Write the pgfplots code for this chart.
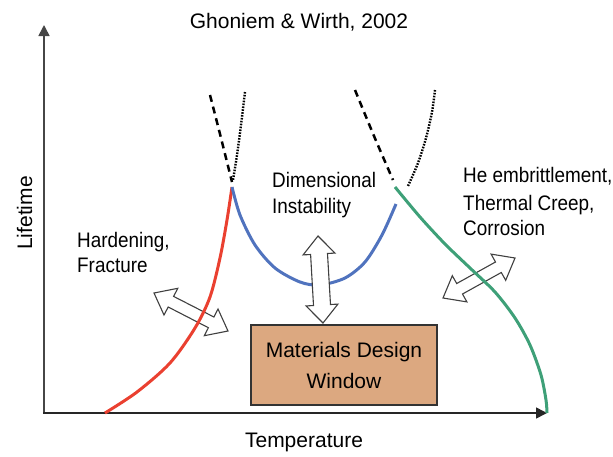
\documentclass[border=0pt]{standalone}
\usepackage{fontspec}
\setmainfont{Liberation Sans}
\newfontfamily\narrowfont{Liberation Sans}[FakeStretch=0.9]
\usepackage{pgfplots}
\pgfplotsset{compat=1.18}
\usetikzlibrary{arrows.meta}
\definecolor{cred}{RGB}{234,64,48}
\definecolor{cblue}{RGB}{80,115,190}
\definecolor{cgreen}{RGB}{62,160,120}
\definecolor{boxcol}{RGB}{220,168,128}
\definecolor{axgray}{RGB}{70,70,70}
\begin{document}
\begin{tikzpicture}
\begin{axis}[
  width=613pt, height=456pt, scale only axis,
  xmin=0, xmax=613, ymin=0, ymax=456, y dir=reverse,
  hide axis, clip=false]
\path (axis cs:0,0) rectangle (axis cs:613,456);
% axes
\draw[axgray, line width=1.6pt, -{Triangle[length=11pt,width=11pt]}] (axis cs:44,413) -- (axis cs:44,25);
\draw[black!85, line width=1.6pt, -{Triangle[length=11pt,width=11pt]}] (axis cs:43.2,413) -- (axis cs:547,413);
% side double arrows (under curves)
\draw[black!75, line width=1.1pt, fill=white, line join=miter]
  (axis cs:154,293) -- (axis cs:164.0,315.0) -- (axis cs:168.2,307.0) -- (axis cs:208.4,327.7) -- (axis cs:204.3,335.7) -- (axis cs:228,331) -- (axis cs:218.0,309.0) -- (axis cs:213.9,317.0) -- (axis cs:173.6,296.4) -- (axis cs:177.8,288.3) -- cycle;
\draw[black!75, line width=1.1pt, fill=white, line join=miter]
  (axis cs:443,298) -- (axis cs:466.9,301.9) -- (axis cs:462.5,294.0) -- (axis cs:501.3,272.5) -- (axis cs:505.7,280.3) -- (axis cs:515,258) -- (axis cs:491.1,254.1) -- (axis cs:495.5,262.0) -- (axis cs:456.7,283.5) -- (axis cs:452.3,275.7) -- cycle;
% curves
\addplot[cred, line width=3pt, smooth] coordinates {
 (105,413) (137,392) (170,363) (195,328) (210,297) (220,258) (227,220) (232,187)};
\addplot[cblue, line width=3pt, smooth] coordinates {
 (232,187) (240,215) (255,245) (275,268) (300,282) (320,285) (345,278) (365,262) (382,235) (396,204)};
\addplot[cgreen, line width=3pt, smooth] coordinates {
 (395,187) (420,217) (445,244) (470,268) (495,292) (515,318) (530,345) (541,375) (546,400) (547,413)};
\addplot[black, line width=2.5pt, dash pattern=on 7pt off 5pt, smooth] coordinates {
 (210,95) (221,138) (232,182)};
\addplot[black, line width=2.4pt, dash pattern=on 1.6pt off 1.3pt, smooth] coordinates {
 (245,92) (241,125) (237,155) (233,180)};
\addplot[black, line width=2.5pt, dash pattern=on 7pt off 5pt, smooth] coordinates {
 (355,90) (374,136) (393,180)};
\addplot[black, line width=2.4pt, dash pattern=on 1.6pt off 1.3pt, smooth] coordinates {
 (435,90) (432,112) (426,138) (418,163) (408,186)};
% vertical double arrow (over blue)
\draw[black!75, line width=1.1pt, fill=white, line join=miter]
  (axis cs:318,236) -- (axis cs:303.1,254.9) -- (axis cs:310.6,254.5) -- (axis cs:313.5,305.5) -- (axis cs:306.0,305.95) -- (axis cs:323,323) -- (axis cs:337.9,304.1) -- (axis cs:330.5,304.5) -- (axis cs:327.5,253.5) -- (axis cs:335.0,253.05) -- cycle;
% box
\draw[fill=boxcol, draw=black!80, line width=1.5pt] (axis cs:251,325) rectangle (axis cs:437,405);
\node[anchor=base, font=\fontsize{21}{25}\selectfont] at (axis cs:344,357) {Materials Design};
\node[anchor=base, font=\fontsize{21}{25}\selectfont] at (axis cs:344,388) {Window};
% labels
\node[anchor=base, font=\fontsize{21}{25}\selectfont] at (axis cs:299,28) {Ghoniem \& Wirth, 2002};
\node[anchor=base, font=\fontsize{21}{25}\selectfont] at (axis cs:304,447) {Temperature};
\node[anchor=base, rotate=90, font=\fontsize{21}{25}\selectfont] at (axis cs:32,213) {Lifetime};
\node[anchor=base west, inner sep=0pt, font=\narrowfont\fontsize{21}{25}\selectfont] at (axis cs:77,247) {Hardening,};
\node[anchor=base west, inner sep=0pt, font=\narrowfont\fontsize{21}{25}\selectfont] at (axis cs:77,272) {Fracture};
\node[anchor=base west, inner sep=0pt, font=\narrowfont\fontsize{21}{25}\selectfont] at (axis cs:272,187) {Dimensional};
\node[anchor=base west, inner sep=0pt, font=\narrowfont\fontsize{21}{25}\selectfont] at (axis cs:272,213) {Instability};
\node[anchor=base west, inner sep=0pt, font=\narrowfont\fontsize{21}{25}\selectfont] at (axis cs:463,182) {He embrittlement,};
\node[anchor=base west, inner sep=0pt, font=\narrowfont\fontsize{21}{25}\selectfont] at (axis cs:463,210) {Thermal Creep,};
\node[anchor=base west, inner sep=0pt, font=\narrowfont\fontsize{21}{25}\selectfont] at (axis cs:463,235) {Corrosion};
\end{axis}
\end{tikzpicture}
\end{document}
